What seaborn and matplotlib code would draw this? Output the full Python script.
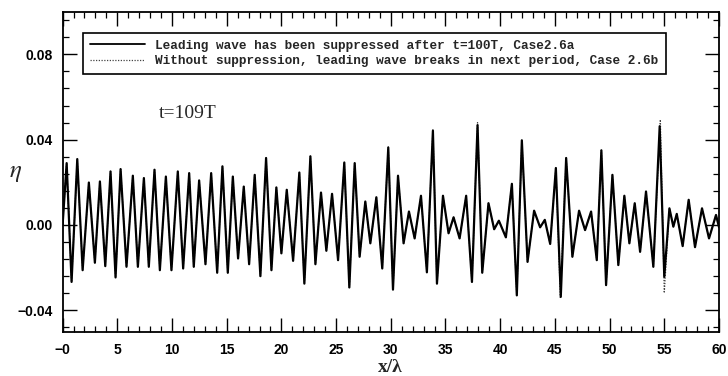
import matplotlib
matplotlib.use("Agg")
import matplotlib.pyplot as plt
from matplotlib.ticker import MultipleLocator
import seaborn as sns
import pandas as pd

# ---- data (crests / troughs of the free surface) ----
x_a = [0.0, 0.37, 0.82, 1.34, 1.83, 2.40, 2.95, 3.41, 3.90, 4.38, 4.84, 5.30, 5.84,
       6.42, 6.88, 7.43, 7.88, 8.40, 8.89, 9.44, 9.95, 10.53, 11.02, 11.57, 11.99,
       12.48, 13.06, 13.58, 14.13, 14.61, 15.10, 15.56, 16.04, 16.56, 17.05, 17.56,
       18.08, 18.60, 19.09, 19.54, 20.00, 20.49, 21.07, 21.64, 22.10, 22.65, 23.11,
       23.62, 24.11, 24.63, 25.18, 25.75, 26.21, 26.70, 27.15, 27.67, 28.13, 28.68,
       29.22, 29.77, 30.20, 30.66, 31.17, 31.66, 32.18, 32.76, 33.30, 33.85, 34.22,
       34.77, 35.28, 35.74, 36.29, 36.89, 37.42, 37.93, 38.36, 38.93, 39.45, 39.88,
       40.52, 41.07, 41.52, 41.98, 42.50, 43.10, 43.65, 44.08, 44.57, 45.09, 45.54,
       46.03, 46.60, 47.21, 47.76, 48.31, 48.83, 49.25, 49.68, 50.26, 50.80, 51.35,
       51.81, 52.30, 52.79, 53.33, 54.00, 54.58, 55.00, 55.47, 55.83, 56.14, 56.68,
       57.23, 57.81, 58.45, 59.09, 59.73, 60.0]
eta_a = [0.000, 0.029, -0.0267, 0.0309, -0.0212, 0.0199, -0.0177, 0.0204, -0.0193,
         0.0251, -0.0246, 0.0262, -0.0196, 0.0231, -0.0196, 0.0220, -0.0196, 0.0259,
         -0.0212, 0.0227, -0.0212, 0.0251, -0.0204, 0.0243, -0.0196, 0.0209, -0.0184,
         0.0243, -0.0224, 0.0275, -0.0224, 0.0227, -0.0157, 0.0180, -0.0184, 0.0235,
         -0.0240, 0.0314, -0.0212, 0.0176, -0.0133, 0.0165, -0.0168, 0.0246, -0.0275,
         0.0322, -0.0184, 0.0152, -0.0121, 0.0146, -0.0165, 0.0293, -0.0293, 0.0290,
         -0.0149, 0.0110, -0.0086, 0.0130, -0.0204, 0.0363, -0.0303, 0.0231, -0.0086,
         0.0063, -0.0063, 0.0137, -0.0222, 0.0442, -0.0275, 0.0137, -0.0039, 0.0036,
         -0.0063, 0.0137, -0.0267, 0.0468, -0.0224, 0.0102, -0.0020, 0.0020, -0.0058,
         0.0193, -0.0330, 0.0397, -0.0173, 0.0067, -0.0011, 0.0024, -0.0089, 0.0267,
         -0.0337, 0.0314, -0.0149, 0.0067, -0.0024, 0.0063, -0.0165, 0.0350, -0.0282,
         0.0235, -0.0188, 0.0137, -0.0086, 0.0102, -0.0126, 0.0157, -0.0196, 0.0463,
         -0.0243, 0.0078, -0.0008, 0.0052, -0.0099, 0.0118, -0.0104, 0.0078, -0.0063,
         0.0047, -0.0010]

x_b = [0.0, 0.37, 0.82, 1.34, 1.83, 2.40, 2.95, 3.41, 3.90, 4.38, 4.84, 5.30, 5.84,
       6.42, 6.88, 7.43, 7.88, 8.40, 8.89, 9.44, 9.95, 10.53, 11.02, 11.57, 11.99,
       12.48, 13.06, 13.58, 14.13, 14.61, 15.10, 15.56, 16.04, 16.56, 17.05, 17.56,
       18.08, 18.60, 19.09, 19.54, 20.00, 20.49, 21.07, 21.64, 22.10, 22.65, 23.11,
       23.62, 24.11, 24.63, 25.18, 25.75, 26.21, 26.70, 27.15, 27.67, 28.13, 28.68,
       29.22, 29.77, 30.20, 30.66, 31.17, 31.66, 32.18, 32.76, 33.30, 33.85, 34.22,
       34.77, 35.28, 35.74, 36.29, 36.89, 37.42, 37.93, 38.36, 38.93, 39.45, 39.88,
       40.52, 41.07, 41.52, 41.98, 42.50, 43.10, 43.65, 44.08, 44.57, 45.09, 45.50,
       46.03, 46.60, 47.21, 47.76, 48.31, 48.83, 49.25, 49.68, 50.26, 50.80, 51.35,
       51.81, 52.30, 52.79, 53.33, 54.00, 54.64, 55.00, 55.47, 55.83, 56.14, 56.68,
       57.23, 57.81, 58.45, 59.09, 59.73, 60.0]
eta_b = [0.000, 0.029, -0.0267, 0.0309, -0.0212, 0.0199, -0.0177, 0.0204, -0.0193,
         0.0251, -0.0246, 0.0262, -0.0196, 0.0231, -0.0196, 0.0220, -0.0196, 0.0259,
         -0.0212, 0.0227, -0.0212, 0.0251, -0.0204, 0.0243, -0.0196, 0.0209, -0.0184,
         0.0243, -0.0224, 0.0275, -0.0224, 0.0227, -0.0157, 0.0180, -0.0184, 0.0235,
         -0.0240, 0.0314, -0.0212, 0.0176, -0.0133, 0.0165, -0.0168, 0.0246, -0.0275,
         0.0322, -0.0184, 0.0152, -0.0121, 0.0146, -0.0165, 0.0293, -0.0293, 0.0290,
         -0.0149, 0.0110, -0.0086, 0.0130, -0.0204, 0.0366, -0.0303, 0.0231, -0.0086,
         0.0063, -0.0063, 0.0137, -0.0222, 0.0446, -0.0275, 0.0137, -0.0039, 0.0036,
         -0.0063, 0.0137, -0.0267, 0.0480, -0.0224, 0.0102, -0.0020, 0.0020, -0.0058,
         0.0193, -0.0330, 0.0397, -0.0173, 0.0067, -0.0011, 0.0024, -0.0089, 0.0267,
         -0.0340, 0.0314, -0.0149, 0.0067, -0.0024, 0.0063, -0.0165, 0.0350, -0.0282,
         0.0235, -0.0188, 0.0137, -0.0086, 0.0102, -0.0126, 0.0157, -0.0196, 0.0494,
         -0.0319, 0.0078, -0.0008, 0.0052, -0.0099, 0.0118, -0.0104, 0.0078, -0.0063,
         0.0047, -0.0010]

label_a = "Leading wave has been suppressed after t=100T, Case2.6a"
label_b = "Without suppression, leading wave breaks in next period, Case 2.6b"
annotation = "t=109T"
x_ticks = [0, 5, 10, 15, 20, 25, 30, 35, 40, 45, 50, 55, 60]
x_tick_labels = ["\u22120", "5", "10", "15", "20", "25", "30", "35", "40", "45", "50", "55", "60"]
y_ticks = [-0.04, 0.00, 0.04, 0.08]
y_tick_labels = ["\u22120.04", "0.00", "0.04", "0.08"]

df_a = pd.DataFrame({"x": x_a, "eta": eta_a})
df_b = pd.DataFrame({"x": x_b, "eta": eta_b})

sns.set_theme(style="ticks")
plt.rcParams["font.family"] = ["Liberation Sans", "DejaVu Sans"]
plt.rcParams["mathtext.fontset"] = "stix"

fig = plt.figure(figsize=(7.28, 3.76), dpi=100)
ax = fig.add_axes([0.086, 0.118, 0.9016, 0.851])

sns.lineplot(data=df_b, x="x", y="eta", ax=ax, sort=False, estimator=None,
             color="#444444", lw=0.9, linestyle=(0, (1, 1.2)), zorder=2, label=label_b)
sns.lineplot(data=df_a, x="x", y="eta", ax=ax, sort=False, estimator=None,
             color="black", lw=1.6, zorder=3, label=label_a,
             solid_joinstyle="round", solid_capstyle="round")

ax.set_xlim(0, 60)
ax.set_ylim(-0.05, 0.10)
ax.set_xticks(x_ticks)
ax.set_xticklabels(x_tick_labels)
ax.set_yticks(y_ticks)
ax.set_yticklabels(y_tick_labels)
ax.xaxis.set_minor_locator(MultipleLocator(1))
ax.yaxis.set_minor_locator(MultipleLocator(0.008))
ax.tick_params(which="both", direction="in", top=True, right=True, colors="black")
ax.tick_params(which="major", length=10, width=1.0)
ax.tick_params(which="minor", length=4, width=0.9)
ax.tick_params(axis="x", which="major", pad=8)
ax.tick_params(axis="y", which="major", pad=7)
for lab in ax.get_xticklabels() + ax.get_yticklabels():
    lab.set_fontweight("bold")
    lab.set_fontsize(10)
for sp in ax.spines.values():
    sp.set_linewidth(1.3)
    sp.set_color("black")

ax.set_xlabel("x/\u03bb", fontfamily="Liberation Serif", fontweight="bold", fontsize=14)
ax.xaxis.set_label_coords(0.5, -0.085)
ax.set_ylabel(r"$\eta$", fontsize=18, rotation=0, va="center", ha="center")
ax.yaxis.set_label_coords(-0.072, 0.5)

ax.text(11.46, 0.0521, annotation, fontfamily="Liberation Serif", fontsize=14,
        ha="center", va="center")

handles, labels = ax.get_legend_handles_labels()
order = [labels.index(label_a), labels.index(label_b)]
leg = ax.legend([handles[i] for i in order], [labels[i] for i in order],
                loc="upper left", bbox_to_anchor=(0.0315, 0.934), borderaxespad=0,
                frameon=True, fancybox=False, framealpha=1, edgecolor="black",
                prop={"family": "Liberation Mono", "weight": "bold", "size": 9.2},
                handlelength=4.3, handletextpad=0.8, labelspacing=0.25,
                borderpad=0.55)
leg.get_frame().set_linewidth(1.2)
leg.get_lines()[0].set_linewidth(1.3)

fig.savefig("out.png", dpi=100)
